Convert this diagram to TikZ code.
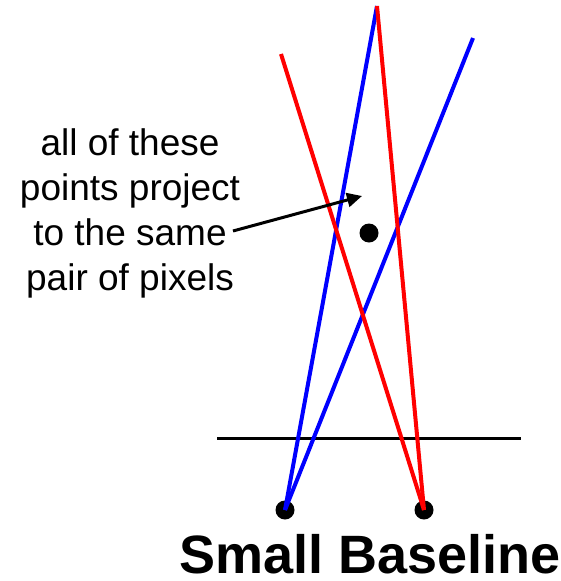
\documentclass[tikz,border=0pt]{standalone}
\usepackage{fontspec}
\setmainfont{Liberation Sans}
\usetikzlibrary{arrows.meta}
\definecolor{rayblue}{HTML}{0000FF}
\definecolor{rayred}{HTML}{FF0000}

\begin{document}
\begin{tikzpicture}[
  x=1pt, y=-1pt,
  blueray/.style={draw=rayblue, line width=4pt},
  redray/.style={draw=rayred, line width=4pt},
  cam/.style={circle, fill=black, inner sep=0pt, minimum size=19pt},
  lbl/.style={font=\fontsize{37}{45}\selectfont, align=center, inner sep=0pt}
]
  \useasboundingbox (0,0) rectangle (560,581);

  % Cameras and image line
  \node[cam] (camL) at (285,510) {};
  \node[cam] (camR) at (424,510) {};
  \coordinate (imgL) at (217,438);
  \coordinate (imgR) at (521,438);
  \draw[line width=3pt] (imgL) -- (imgR);

  % Rays
  \coordinate (topA) at (377,6);
  \coordinate (blueR) at (473,38);
  \coordinate (redL) at (281,54);
  \draw[blueray] (camL.center) -- (topA);
  \draw[blueray] (camL.center) -- (blueR);
  \draw[redray] (camR.center) -- (topA);
  \draw[redray] (camR.center) -- (redL);

  % Point and label
  \node[cam] (pt) at (369,233) {};
  \node[lbl] (note) at (130,213) {all of these\\points project\\to the same\\pair of pixels};
  \coordinate (arrS) at (233,231);
  \coordinate (arrE) at (362,196);
  \draw[line width=3pt, -{Triangle[length=15pt, width=14pt]}] (arrS) -- (arrE);

  % Caption
  \node[font=\fontsize{54}{60}\selectfont\bfseries, anchor=base, inner sep=0pt] (title) at (370,573) {Small Baseline};
\end{tikzpicture}
\end{document}
